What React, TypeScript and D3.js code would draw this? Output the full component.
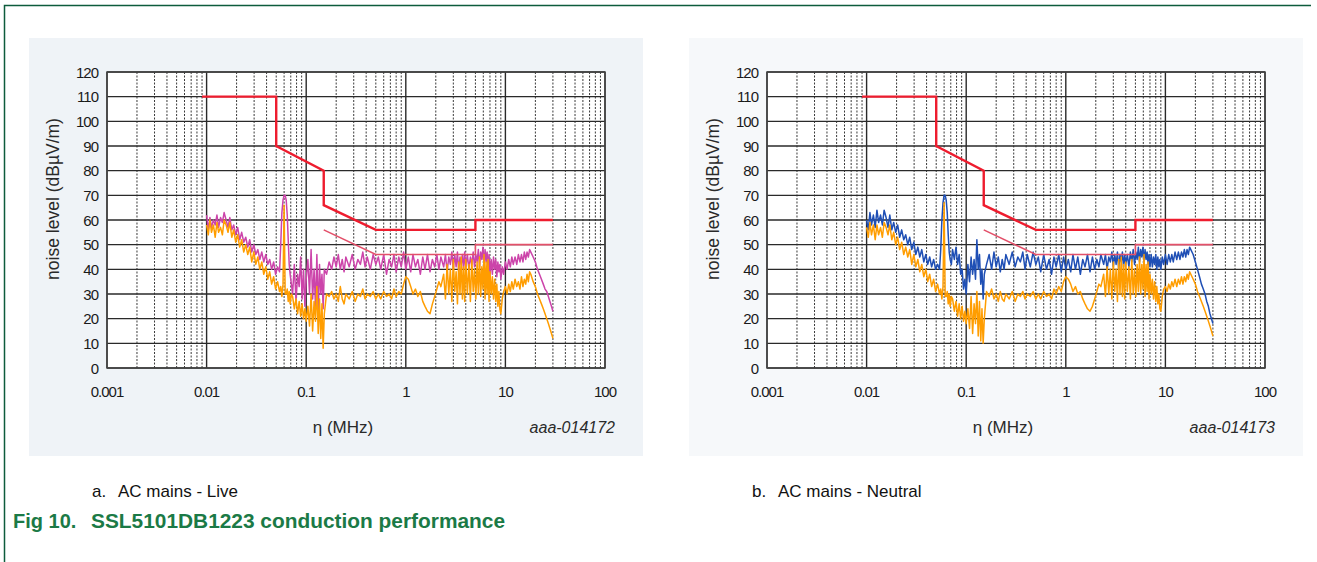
import React from "react";
import * as d3 from "d3";

// ---------- DATA ----------
const xTicks = [0.001, 0.01, 0.1, 1, 10, 100];
const xTickLabels = ["0.001", "0.01", "0.1", "1", "10", "100"];
const yTicks = [0, 10, 20, 30, 40, 50, 60, 70, 80, 90, 100, 110, 120];

// limit lines (MHz, dBµV)
const qpLimitF = [0.009, 0.05, 0.05, 0.15, 0.15, 0.5, 5, 5, 30];
const qpLimitV = [110, 110, 90, 80, 66, 56, 56, 60, 60];
const avLimitF = [0.15, 0.5, 5, 5, 30];
const avLimitV = [56, 46, 46, 50, 50];

// measurement frequencies (MHz)
const freqs = [
  0.0100, 0.0104, 0.0108, 0.0112, 0.0117, 0.0122, 0.0127, 0.0132, 0.0138, 0.0144, 0.0150,
  0.0157, 0.0164, 0.0171, 0.0179, 0.0187, 0.0196, 0.0205, 0.0215, 0.0225, 0.0236,
  0.0247, 0.0259, 0.0271, 0.0284, 0.0298, 0.0312, 0.0327, 0.0342, 0.0358, 0.0375,
  0.0393, 0.0411, 0.0430, 0.0450, 0.0471, 0.0493, 0.0516, 0.0540,
  0.0555, 0.0570, 0.0585, 0.0600, 0.0615, 0.0630, 0.0645, 0.0660, 0.0675, 0.0690, 0.0710,
  0.073, 0.076, 0.079, 0.082, 0.085, 0.088, 0.091, 0.094, 0.097, 0.100,
  0.104, 0.108, 0.112, 0.116, 0.120, 0.124, 0.128, 0.132, 0.136, 0.140, 0.144, 0.148, 0.152,
  0.16, 0.17, 0.18, 0.19, 0.20, 0.21, 0.22, 0.23, 0.24, 0.25,
  0.27, 0.29, 0.31, 0.33, 0.35, 0.37, 0.39, 0.41, 0.44, 0.47, 0.50,
  0.53, 0.56, 0.60, 0.64, 0.68, 0.72, 0.76, 0.80, 0.85, 0.90, 0.95, 1.00,
  1.06, 1.12, 1.18, 1.25, 1.32, 1.40, 1.48, 1.56, 1.65, 1.75, 1.85, 1.95, 2.05, 2.15, 2.25,
  2.4, 2.5, 2.6, 2.7, 2.8, 2.9, 3.0, 3.1, 3.2, 3.3, 3.4, 3.5, 3.6, 3.7, 3.8, 3.9, 4.0,
  4.15, 4.3, 4.45, 4.6, 4.75, 4.9, 5.05, 5.2, 5.35, 5.5, 5.65, 5.8, 5.95, 6.1, 6.25, 6.4, 6.55, 6.7, 6.85, 7.0,
  7.2, 7.4, 7.6, 7.8, 8.0, 8.2, 8.4, 8.6, 8.8, 9.0, 9.3, 9.6, 10.0,
  10.4, 10.8, 11.2, 11.6, 12.0, 12.5, 13.0, 13.5, 14.0, 14.5, 15.0, 15.5, 16.0, 16.5, 17.0, 17.5, 18.0,
  19, 20, 21, 22, 23, 24, 25, 26, 27, 28, 29, 30,
];

// a. Live – peak (magenta)
const livePeak = [
  62, 56, 61, 57, 60, 58, 62, 57, 61, 59, 63,
  60, 57, 61, 56, 58, 54, 57, 52, 55, 51,
  53, 49, 52, 47, 50, 46, 48, 44, 47, 43,
  46, 42, 44, 40, 43, 38, 41, 39,
  50, 63, 68, 70, 70, 68, 62, 52, 42, 38, 34,
  30, 42, 27, 38, 33, 45, 28, 40, 25, 36,
  44, 30, 48, 28, 40, 25, 46, 22, 42, 30, 38, 24, 40,
  38, 43, 40, 45, 41, 46, 40, 44, 39, 45,
  41, 46, 40, 44, 42, 47, 41, 45, 40, 46, 42,
  45, 40, 46, 38, 44, 41, 46, 39, 45, 41, 47, 40,
  45, 39, 46, 41, 44, 38, 45, 40, 46, 39, 44, 41, 46, 40, 45,
  41, 46, 39, 45, 42, 47, 40, 46, 41, 47, 39, 45, 42, 46, 40, 47, 41,
  46, 40, 45, 42, 47, 41, 46, 43, 48, 41, 47, 44, 49, 42, 48, 43, 47, 40, 46, 38,
  44, 38, 45, 40, 44, 37, 43, 39, 42, 36, 41, 38, 43,
  40, 44, 41, 45, 42, 45, 42, 46, 43, 46, 43, 47, 44, 47, 45, 48, 47,
  45, 43, 40, 38, 36, 34, 32, 31, 29, 27, 25, 23,
];

// a. Live – average (orange)
const liveAvg = [
  58, 54, 60, 55, 58, 53, 59, 55, 57, 54, 60,
  58, 55, 59, 53, 56, 51, 54, 49, 52, 47,
  50, 46, 49, 43, 47, 42, 45, 40, 43, 38,
  41, 36, 39, 34, 37, 32, 35, 31,
  33, 29, 34, 66, 30, 30, 32, 27, 31, 26, 30,
  29, 24, 28, 22, 27, 21, 26, 20, 24, 19,
  25, 17, 30, 15, 27, 19, 33, 14, 28, 12, 26, 8, 22,
  30, 29, 31, 28, 30, 27, 33, 28, 26, 30,
  28, 31, 27, 30, 29, 32, 28, 30, 29, 31, 28,
  30, 28, 31, 29, 30, 28, 32, 29, 31, 30, 34, 37,
  36, 33, 30, 32, 29, 31, 27, 25, 23, 22, 26, 29, 32, 35, 33,
  38, 28, 42, 30, 40, 27, 44, 31, 39, 26, 43, 30, 45, 28, 41, 27, 44,
  30, 42, 27, 44, 31, 40, 28, 43, 30, 45, 29, 41, 32, 46, 28, 43, 30, 44, 27, 39,
  30, 37, 28, 36, 27, 34, 25, 31, 24, 22, 28, 31, 33,
  30, 34, 31, 35, 32, 36, 33, 35, 32, 37, 33, 36, 34, 38, 35, 39, 38,
  35, 33, 30, 28, 26, 24, 22, 20, 18, 16, 14, 12,
];

// b. Neutral – peak (blue)
const neutralPeak = [
  60, 56, 63, 58, 62, 57, 64, 59, 62, 58, 64,
  61, 57, 62, 56, 59, 55, 58, 53, 56, 52,
  54, 50, 53, 48, 51, 46, 49, 45, 48, 43,
  46, 42, 45, 41, 44, 40, 42, 40,
  48, 60, 67, 70, 70, 68, 63, 54, 47, 44, 42,
  48, 44, 49, 42, 46, 38, 40, 32, 36, 30,
  42, 35, 45, 38, 44, 36, 52, 40, 46, 34, 40, 28, 38,
  42, 46, 40, 47, 41, 45, 39, 44, 40, 46,
  42, 47, 41, 45, 43, 47, 40, 46, 41, 47, 42,
  45, 39, 46, 40, 44, 38, 45, 41, 46, 39, 45, 40,
  44, 39, 46, 40, 45, 38, 44, 41, 46, 39, 45, 40, 44, 41, 46,
  42, 46, 40, 45, 43, 47, 41, 46, 42, 47, 40, 46, 43, 47, 41, 46, 42,
  46, 41, 47, 43, 48, 42, 47, 44, 49, 43, 48, 45, 49, 43, 48, 44, 47, 42, 46, 41,
  46, 41, 45, 42, 46, 40, 45, 41, 44, 40, 45, 42, 46,
  42, 46, 43, 46, 43, 47, 44, 47, 44, 47, 45, 48, 45, 48, 46, 49, 48,
  46, 43, 40, 37, 34, 32, 30, 27, 25, 22, 20, 18,
];

// b. Neutral – average (orange)
const neutralAvg = [
  57, 53, 59, 54, 58, 52, 58, 54, 57, 53, 59,
  57, 54, 58, 52, 55, 50, 53, 48, 51, 46,
  49, 45, 48, 42, 46, 41, 44, 39, 42, 37,
  40, 35, 38, 33, 36, 31, 34, 30,
  32, 28, 33, 67, 29, 29, 31, 26, 30, 25, 29,
  28, 23, 27, 21, 26, 20, 25, 19, 23, 18,
  24, 16, 29, 14, 26, 18, 31, 13, 27, 11, 24, 10, 20,
  31, 29, 32, 28, 30, 27, 31, 28, 27, 30,
  28, 31, 27, 30, 29, 31, 28, 30, 29, 31, 28,
  30, 28, 31, 29, 30, 28, 32, 30, 33, 31, 35, 37,
  36, 34, 31, 33, 30, 31, 28, 26, 24, 23, 25, 28, 31, 34, 33,
  38, 29, 41, 30, 40, 28, 43, 31, 40, 27, 44, 30, 45, 29, 42, 28, 43,
  31, 41, 28, 44, 30, 40, 29, 42, 31, 45, 30, 42, 32, 46, 29, 42, 31, 43, 28, 38,
  30, 36, 28, 35, 27, 33, 26, 30, 24, 23, 29, 32, 33,
  31, 34, 32, 35, 33, 36, 33, 36, 34, 37, 34, 37, 35, 38, 36, 39, 38,
  36, 34, 31, 29, 27, 25, 23, 21, 19, 17, 15, 13,
];

// ---------- CHART ----------
const FONT = "'Liberation Sans', Arial, Helvetica, sans-serif";

type PanelProps = {
  ox: number;
  peak: number[];
  avg: number[];
  peakColor: string;
  code: string;
  bg: string;
};

function Panel({ ox, peak, avg, peakColor, code, bg }: PanelProps) {
  const x = d3.scaleLog().domain([0.001, 100]).range([107 + ox, 605 + ox]);
  const y = d3.scaleLinear().domain([0, 120]).range([368, 72]);

  const minors: number[] = [];
  for (let i = 0; i < xTicks.length - 1; i++) {
    for (let k = 2; k <= 9; k++) minors.push(xTicks[i] * k);
  }

  const line = d3
    .line<[number, number]>()
    .x((d) => x(d[0]))
    .y((d) => y(d[1]));

  const zip = (f: number[], v: number[]) =>
    f.slice(0, Math.min(f.length, v.length)).map((fv, i) => [fv, v[i]] as [number, number]);

  const [y0, y1] = y.range();
  const [x0, x1] = x.range();

  return (
    <g>
      <rect x={29 + ox} y={38} width={614} height={418} fill={bg} />
      <rect x={x0} y={y1} width={x1 - x0} height={y0 - y1} fill="#ffffff" />
      {minors.map((m, i) => (
        <line
          key={"mn" + i}
          x1={x(m)}
          x2={x(m)}
          y1={y1}
          y2={y0}
          stroke="#3a3a3a"
          strokeWidth={1}
          strokeDasharray="2,1.5"
        />
      ))}
      {yTicks.map((t) => (
        <line key={"h" + t} x1={x0} x2={x1} y1={y(t)} y2={y(t)} stroke="#2a2a2a" strokeWidth={1.3} />
      ))}
      {xTicks.map((t) => (
        <line key={"v" + t} x1={x(t)} x2={x(t)} y1={y1} y2={y0} stroke="#2a2a2a" strokeWidth={1.4} />
      ))}
      <rect x={x0} y={y1} width={x1 - x0} height={y0 - y1} fill="none" stroke="#444" strokeWidth={1.5} />

      <path d={line(zip(freqs, peak)) || ""} fill="none" stroke={peakColor} strokeWidth={1.5} strokeLinejoin="round" />
      <path d={line(zip(freqs, avg)) || ""} fill="none" stroke="#ff9d00" strokeWidth={1.5} strokeLinejoin="round" />

      <path d={line(zip(avLimitF, avLimitV)) || ""} fill="none" stroke="#e3506a" strokeWidth={1.6} />
      <path d={line(zip(qpLimitF, qpLimitV)) || ""} fill="none" stroke="#ee1c2e" strokeWidth={2.4} />

      {yTicks.map((t) => (
        <text
          key={"yl" + t}
          x={98 + ox}
          y={y(t)}
          textAnchor="end"
          dominantBaseline="central"
          fontFamily={FONT}
          fontSize={15}
          letterSpacing={-1}
          fill="#1a1a1a"
        >
          {t}
        </text>
      ))}
      {xTicks.map((t, i) => (
        <text
          key={"xl" + t}
          x={x(t)}
          y={391}
          textAnchor="middle"
          dominantBaseline="central"
          fontFamily={FONT}
          fontSize={15}
          letterSpacing={-1}
          fill="#1a1a1a"
        >
          {xTickLabels[i]}
        </text>
      ))}
      <text
        x={53 + ox}
        y={199}
        transform={`rotate(-90 ${53 + ox} 199)`}
        textAnchor="middle"
        dominantBaseline="central"
        fontFamily={FONT}
        fontSize={17.5}
        fill="#2a2a2a"
      >
        noise level (dBµV/m)
      </text>
      <text x={343 + ox} y={427} textAnchor="middle" dominantBaseline="central" fontFamily={FONT} fontSize={17} fill="#2a2a2a">
        η (MHz)
      </text>
      <text
        x={615 + ox}
        y={427}
        textAnchor="end"
        dominantBaseline="central"
        fontFamily={FONT}
        fontSize={16}
        fontStyle="italic"
        fill="#2a2a2a"
      >
        {code}
      </text>
    </g>
  );
}

export default function App() {
  return (
    <svg
      width={1317}
      height={562}
      style={{ position: "absolute", left: 0, top: 0, background: "#fff" }}
      xmlns="http://www.w3.org/2000/svg"
    >
      <rect x={0} y={0} width={1317} height={562} fill="#fff" />
      <path d="M4.5,562 V5.5 H1311" fill="none" stroke="#0d5c3c" strokeWidth={1.5} />
      <Panel ox={0} peak={livePeak} avg={liveAvg} peakColor="#cc44aa" code="aaa-014172" bg="#eff3f7" />
      <Panel ox={660} peak={neutralPeak} avg={neutralAvg} peakColor="#1f4fb5" code="aaa-014173" bg="#f6f8fa" />

      <text x={92} y={497} fontFamily={FONT} fontSize={17} fill="#111">a.</text>
      <text x={118} y={497} fontFamily={FONT} fontSize={17} fill="#111">AC mains - Live</text>
      <text x={752} y={497} fontFamily={FONT} fontSize={17} fill="#111">b.</text>
      <text x={778} y={497} fontFamily={FONT} fontSize={17} fill="#111">AC mains - Neutral</text>

      <text x={13} y={528} fontFamily={FONT} fontSize={20} fontWeight="bold" fill="#1b7a46">Fig 10.</text>
      <text x={91} y={528} fontFamily={FONT} fontSize={20} fontWeight="bold" fill="#1b7a46" textLength={414} lengthAdjust="spacingAndGlyphs">
        SSL5101DB1223 conduction performance
      </text>
    </svg>
  );
}
